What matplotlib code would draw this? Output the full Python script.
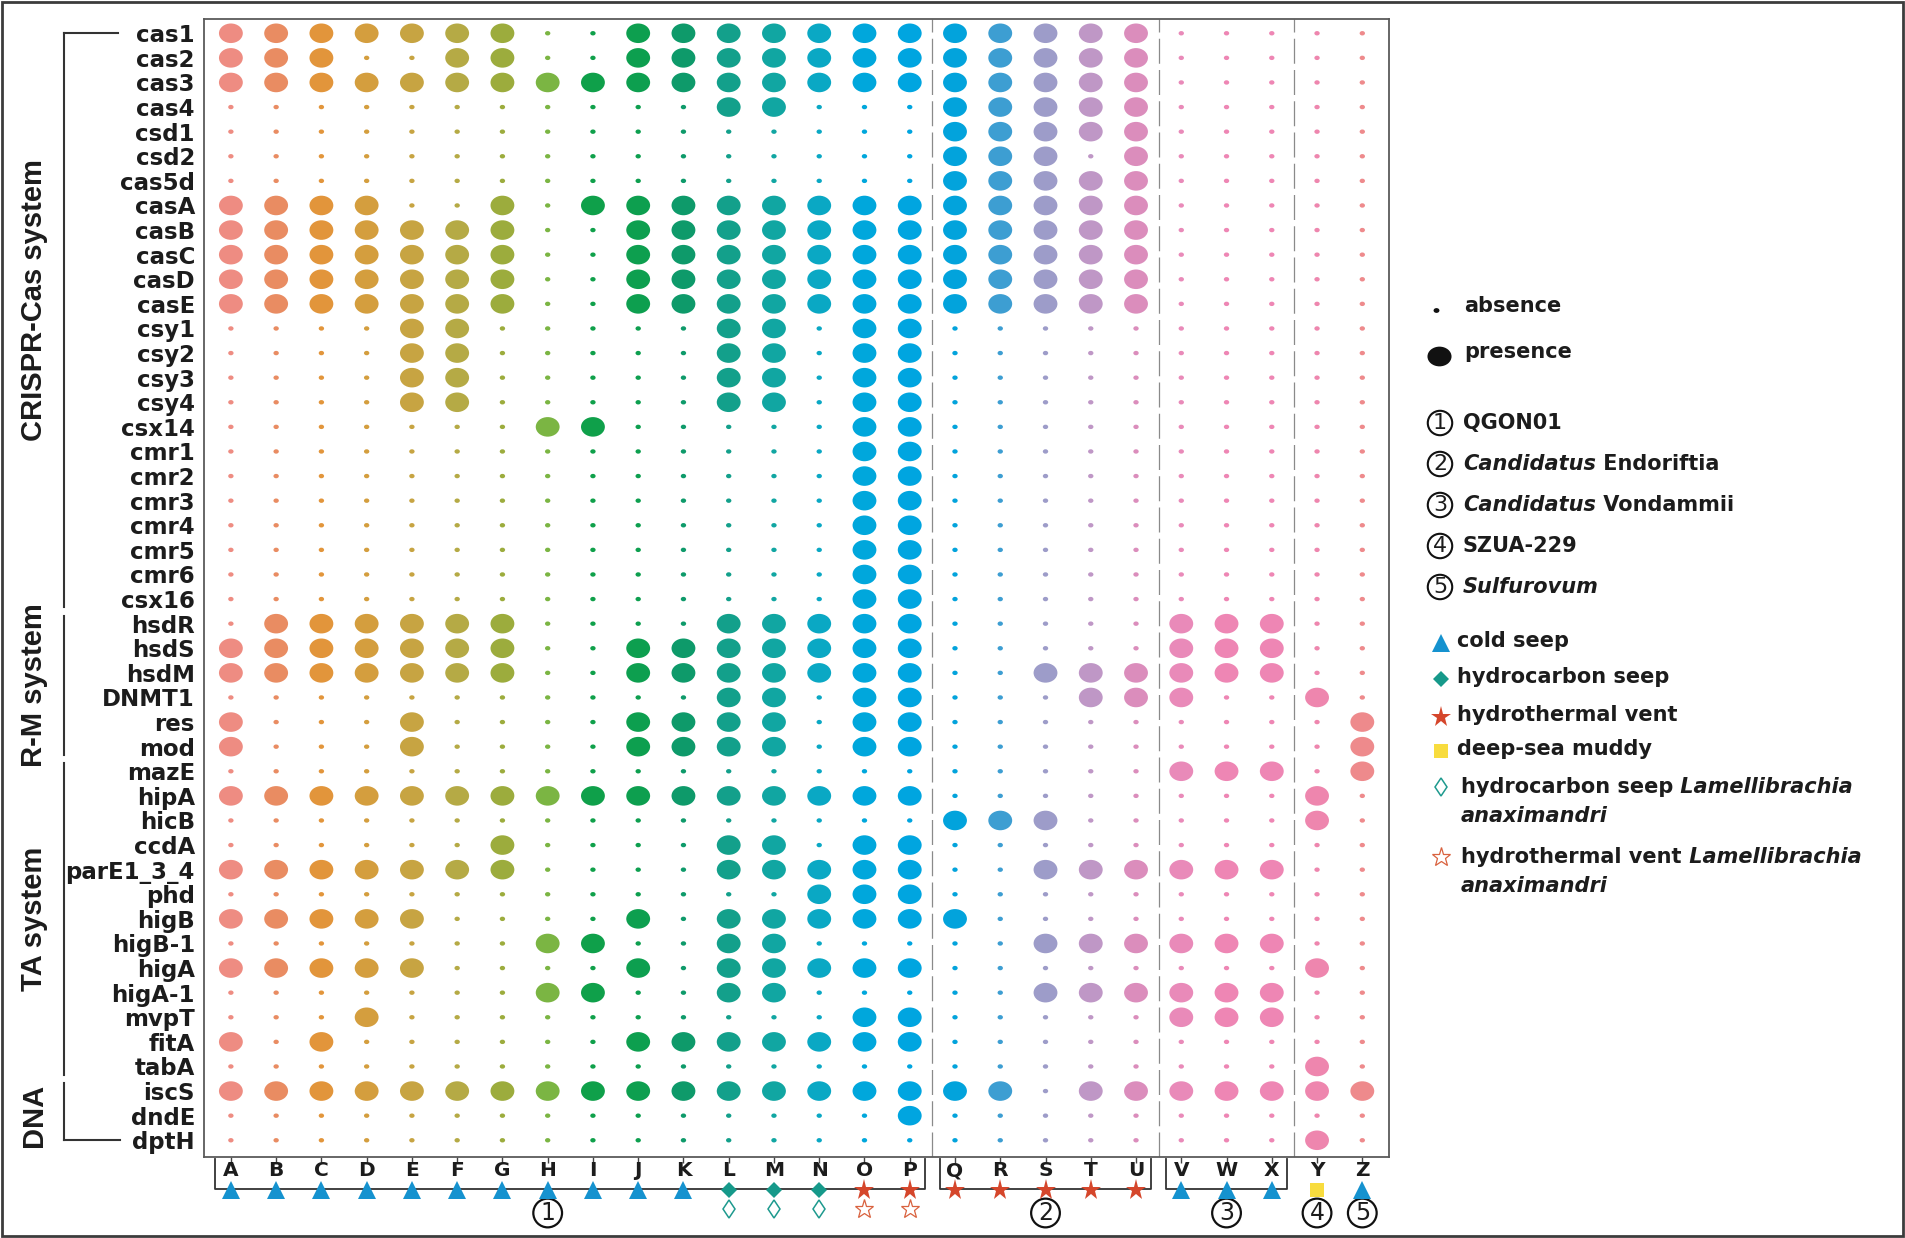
import numpy as np
import matplotlib
matplotlib.use("Agg")
import matplotlib.pyplot as plt
from matplotlib import transforms
from matplotlib.path import Path
from matplotlib.patches import Rectangle

plt.rcParams['font.family'] = ['DejaVu Sans']

# ---- data -----------------------------------------------------------------
genes = ['cas1', 'cas2', 'cas3', 'cas4', 'csd1', 'csd2', 'cas5d', 'casA', 'casB',
         'casC', 'casD', 'casE', 'csy1', 'csy2', 'csy3', 'csy4', 'csx14', 'cmr1',
         'cmr2', 'cmr3', 'cmr4', 'cmr5', 'cmr6', 'csx16',
         'hsdR', 'hsdS', 'hsdM', 'DNMT1', 'res', 'mod',
         'mazE', 'hipA', 'hicB', 'ccdA', 'parE1_3_4', 'phd', 'higB', 'higB-1',
         'higA', 'higA-1', 'mvpT', 'fitA', 'tabA',
         'iscS', 'dndE', 'dptH']

# one string per gene, columns A..Z, 1 = presence
presence = [
    '11111110011111111111100000',  # cas1
    '11100110011111111111100000',  # cas2
    '11111111111111111111100000',  # cas3
    '00000000000110001111100000',  # cas4
    '00000000000000001111100000',  # csd1
    '00000000000000001110100000',  # csd2
    '00000000000000001111100000',  # cas5d
    '11110010111111111111100000',  # casA
    '11111110011111111111100000',  # casB
    '11111110011111111111100000',  # casC
    '11111110011111111111100000',  # casD
    '11111110011111111111100000',  # casE
    '00001100000110110000000000',  # csy1
    '00001100000110110000000000',  # csy2
    '00001100000110110000000000',  # csy3
    '00001100000110110000000000',  # csy4
    '00000001100000110000000000',  # csx14
    '00000000000000110000000000',  # cmr1
    '00000000000000110000000000',  # cmr2
    '00000000000000110000000000',  # cmr3
    '00000000000000110000000000',  # cmr4
    '00000000000000110000000000',  # cmr5
    '00000000000000110000000000',  # cmr6
    '00000000000000110000000000',  # csx16
    '01111110000111110000011100',  # hsdR
    '11111110011111110000011100',  # hsdS
    '11111110011111110011111100',  # hsdM
    '00000000000110110001110010',  # DNMT1
    '10001000011110110000000001',  # res
    '10001000011110110000000001',  # mod
    '00000000000000000000011101',  # mazE
    '11111111111111110000000010',  # hipA
    '00000000000000001110000010',  # hicB
    '00000010000110110000000000',  # ccdA
    '11111110000111110011111100',  # parE1_3_4
    '00000000000001110000000000',  # phd
    '11111000010111111000000000',  # higB
    '00000001100110000011111100',  # higB-1
    '11111000010111110000000010',  # higA
    '00000001100110000011111100',  # higA-1
    '00010000000000110000011100',  # mvpT
    '10100000011111110000000000',  # fitA
    '00000000000000000000000010',  # tabA
    '11111111111111111101111111',  # iscS
    '00000000000000010000000000',  # dndE
    '00000000000000000000000010',  # dptH
]

gene_groups = ['CRISPR-Cas system', 'R-M system', 'TA system', 'DNA']
gene_group_size = [24, 6, 13, 3]

columns = list('ABCDEFGHIJKLMNOPQRSTUVWXYZ')
column_colors = ['#EE8C82', '#E98C62', '#E2953B', '#D49E3E', '#C7A442', '#B5AA45',
                 '#9CAC3D', '#7BB543', '#0FA04A', '#0D9F4F', '#0E9A6A', '#13A08B',
                 '#11A6A2', '#0AA8C4', '#00A7DC', '#00A5E0', '#02A3DC', '#3D9ED2',
                 '#9D9CC9', '#BF97C6', '#DB8DBC', '#E98AB9', '#EE86B4', '#EE86B4',
                 '#EE86AE', '#EE8A8C']

habitat = ['cold seep', 'cold seep', 'cold seep', 'cold seep', 'cold seep',
           'cold seep', 'cold seep', 'cold seep', 'cold seep', 'cold seep',
           'cold seep', 'hydrocarbon seep', 'hydrocarbon seep', 'hydrocarbon seep',
           'hydrothermal vent', 'hydrothermal vent', 'hydrothermal vent',
           'hydrothermal vent', 'hydrothermal vent', 'hydrothermal vent',
           'hydrothermal vent', 'cold seep', 'cold seep', 'cold seep',
           'deep-sea muddy', 'cold seep']
host = ['', '', '', '', '', '', '', '', '', '', '',
        'hc', 'hc', 'hc', 'hv', 'hv',
        '', '', '', '', '', '', '', '', '', '']
genome_group = [1, 1, 1, 1, 1, 1, 1, 1, 1, 1, 1, 1, 1, 1, 1, 1,
                2, 2, 2, 2, 2, 3, 3, 3, 4, 5]

# ---- styles -----------------------------------------------------------------
TXT = '#1c1c1c'
hab_style = {
    'cold seep': dict(marker='^', color='#1592CF', ms=12.5),
    'hydrocarbon seep': dict(marker='D', color='#16998A', ms=8.5),
    'hydrothermal vent': dict(marker='*', color='#D5462B', ms=15.5),
    'deep-sea muddy': dict(marker='s', color='#F8DC3E', ms=9.5),
}
host_style = {
    'hc': dict(marker='d', mfc='white', mec='#1E9A8E', ms=9.5, mew=1.1),
    'hv': dict(marker='*', mfc='white', mec='#D9623F', ms=14, mew=0.9),
}
ellipse = Path.unit_circle().transformed(transforms.Affine2D().scale(1, 0.82))

W, H = 1905, 1238
fig = plt.figure(figsize=(W / 100, H / 100), dpi=100)

# overlay in pixel coordinates for the frame, brackets and legend
ov = fig.add_axes([0, 0, 1, 1])
ov.set_xlim(0, W)
ov.set_ylim(H, 0)
ov.set_axis_off()

pl, pr, pt, pb = 204, 1389, 19, 1157
ax = fig.add_axes([pl / W, 1 - pb / H, (pr - pl) / W, (pb - pt) / H])
ax.set_facecolor('none')

pres = np.array([[int(ch) for ch in row] for row in presence])
yy, xx = np.indices(pres.shape)
cols = np.array(column_colors)[xx]
on = pres == 1
ax.scatter(xx[on], yy[on], s=295, c=cols[on], marker=ellipse, linewidths=0, zorder=3)
ax.scatter(xx[~on], yy[~on], s=15, c=cols[~on], marker=ellipse, linewidths=0, zorder=3)

ax.set_xlim(-0.594, 25.59)
ax.set_ylim(45.68, -0.58)
ax.set_yticks(range(len(genes)), genes)
ax.set_xticks(range(len(columns)), columns)
ax.tick_params(axis='y', length=0, pad=6.5, labelsize=16.5, labelcolor=TXT)
ax.tick_params(axis='x', length=4.5, width=1, color='#444444', pad=-1.5,
               labelsize=14.5, labelcolor=TXT)
plt.setp(ax.get_yticklabels(), fontweight='bold')
plt.setp(ax.get_xticklabels(), fontweight='bold')
for sp in ax.spines.values():
    sp.set_color('#5a5a5a')
    sp.set_linewidth(1.3)

# dashed separators between genome groups (not between Y and Z)
seps = [i + 0.5 for i in range(len(columns) - 1) if genome_group[i] != genome_group[i + 1]][:-1]
for s in seps:
    ax.axvline(s, color='#8a8a8a', lw=0.9, ls=(0, (20, 5)), zorder=1)

# habitat markers, host markers and genome brackets under the axis
xt = ax.get_xaxis_transform()
def ay(py):
    return (pb - py) / (pb - pt)

for i, h in enumerate(habitat):
    st = hab_style[h]
    ax.plot(i, ay(1189.5), ls='none', marker=st['marker'], color=st['color'],
            ms=st['ms'], mew=0, transform=xt, clip_on=False, zorder=5)
    if host[i]:
        ax.plot(i, ay(1209), ls='none', transform=xt, clip_on=False, zorder=5,
                **host_style[host[i]])

gnums = np.array(genome_group)
for g in np.unique(gnums):
    idx = np.where(gnums == g)[0]
    if len(idx) > 1:
        x0, x1 = idx.min() - 0.34, idx.max() + 0.34
        ax.plot([x0, x0, x1, x1], [ay(1158.5), ay(1189), ay(1189), ay(1158.5)],
                color='#333333', lw=1.3, transform=xt, clip_on=False, zorder=4)
    ax.text(int(np.mean(idx)), ay(1213), str(g), transform=xt, ha='center',
            va='center', fontsize=17, color=TXT,
            bbox=dict(boxstyle='circle,pad=0.1', fc='none', ec='#111111', lw=1.6))

# gene-group brackets and labels on the left
tb = transforms.blended_transform_factory(ov.transData, ax.transData)
label_shift = [-0.65, 0, 0, 0]
start = 0
for k, (name, n) in enumerate(zip(gene_groups, gene_group_size)):
    end = start + n - 1
    y0 = start if k == 0 else start - 0.5 + 0.17
    y1 = end if k == len(gene_groups) - 1 else end + 0.5 - 0.17
    ov.plot([64, 64], [y0, y1], color='#333333', lw=1.5, transform=tb, clip_on=False)
    if k == 0:
        ov.plot([64, 118], [start, start], color='#333333', lw=1.5, transform=tb)
    if k == len(gene_groups) - 1:
        ov.plot([64, 120], [end, end], color='#333333', lw=1.5, transform=tb)
    ov.text(34, (start + end) / 2 + label_shift[k], name, transform=tb, rotation=90,
            ha='center', va='center', fontsize=21, fontweight='bold', color=TXT,
            family=['Liberation Sans', 'DejaVu Sans'])
    start += n

# outer frame
ov.add_patch(Rectangle((2, 2), W - 4, H - 4, fill=False, lw=2, ec='#3c3c3c'))

# ---- legend -----------------------------------------------------------------
LFS = 15
ov.scatter([1436], [310], s=18, c='#111111', marker=ellipse, linewidths=0)
ov.text(1464, 306, 'absence', va='center', fontsize=LFS, fontweight='bold', color=TXT)
ov.scatter([1439], [356], s=300, c='#111111', marker=ellipse, linewidths=0)
ov.text(1464, 352, 'presence', va='center', fontsize=LFS, fontweight='bold', color=TXT)

genome_names = [('', 'QGON01'), ('Candidatus', ' Endoriftia'),
                ('Candidatus', ' Vondammii'), ('', 'SZUA-229'), ('Sulfurovum', '')]
for k, (it, rest) in enumerate(genome_names):
    y = 423 + k * 41
    ov.text(1440, y, str(k + 1), ha='center', va='center', fontsize=16, color=TXT,
            bbox=dict(boxstyle='circle,pad=0.1', fc='none', ec='#111111', lw=1.5))
    t = ov.text(1463, y, it, va='center', fontsize=LFS, fontweight='bold',
                style='italic', color=TXT)
    if rest:
        ov.annotate(rest, xy=(1, 0.5), xycoords=t, va='center', ha='left',
                    fontsize=LFS, fontweight='bold', color=TXT)

leg_y = {'cold seep': 641, 'hydrocarbon seep': 677, 'hydrothermal vent': 715,
         'deep-sea muddy': 749}
for h, y in leg_y.items():
    st = hab_style[h]
    ov.plot(1441, y + 2, ls='none', marker=st['marker'], color=st['color'],
            ms=st['ms'], mew=0)
    ov.text(1457, y, h, va='center', fontsize=LFS, fontweight='bold', color=TXT)

for key, y, label in [('hc', 787, 'hydrocarbon seep'), ('hv', 857, 'hydrothermal vent')]:
    ov.plot(1441, y, ls='none', **host_style[key])
    t = ov.text(1461, y, label, va='center', fontsize=LFS, fontweight='bold', color=TXT)
    ov.annotate(' Lamellibrachia', xy=(1, 0.5), xycoords=t, va='center', ha='left',
                fontsize=LFS, fontweight='bold', style='italic', color=TXT)
    ov.text(1461, y + 29, 'anaximandri', va='center', fontsize=LFS,
            fontweight='bold', style='italic', color=TXT)

fig.savefig('out.png', dpi=100)
